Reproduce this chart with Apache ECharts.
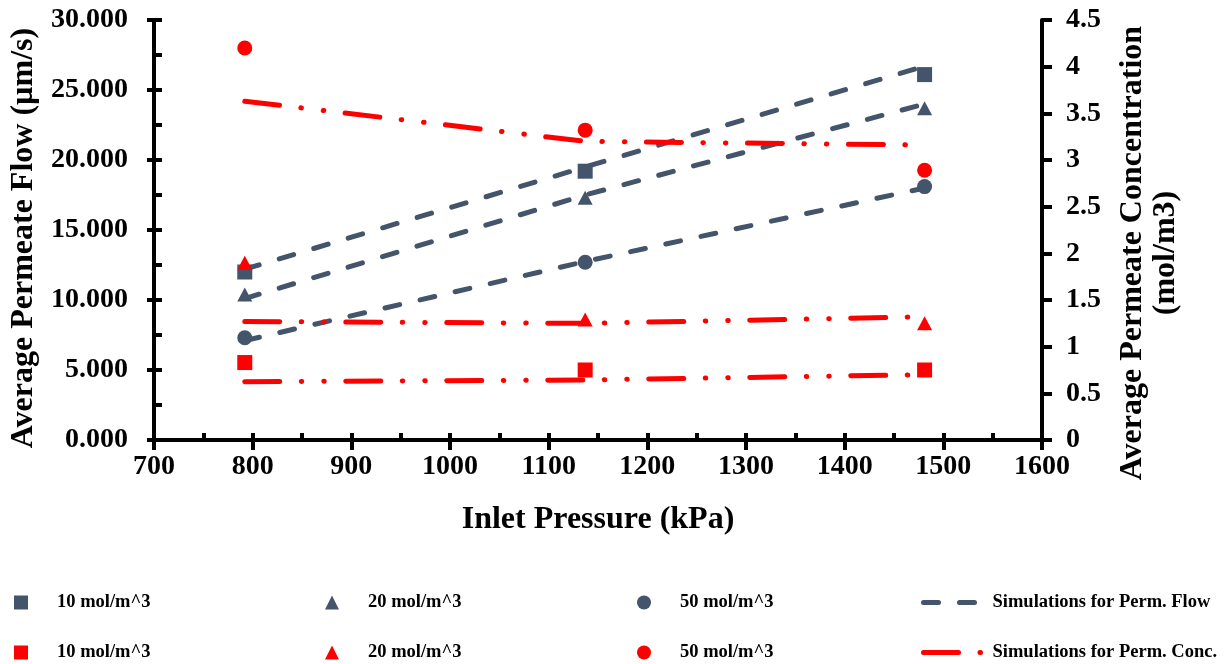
<!DOCTYPE html>
<html>
<head>
<meta charset="utf-8">
<script src="https://cdn.jsdelivr.net/npm/echarts@6/dist/echarts.min.js"></script>
<style>
  html, body { margin: 0; padding: 0; background: #fff; }
  #chart { width: 1230px; height: 664px; }
</style>
</head>
<body>
<div id="chart"></div>
<script>
// inlet pressure (kPa) of the three runs
const pressures = [792, 1137, 1481];

// measured permeate flow (µm/s)
const flow10 = [12.0, 19.2, 26.1];
const flow20 = [10.4, 17.3, 23.7];
const flow50 = [7.3, 12.7, 18.1];

// simulated permeate flow (µm/s)
const simFlow10 = [12.2, 19.5, 26.7];
const simFlow20 = [10.1, 17.5, 24.0];
const simFlow50 = [7.1, 12.75, 18.0];

// measured permeate concentration (mol/m3)
const conc10 = [0.83, 0.75, 0.75];
const conc20 = [1.90, 1.29, 1.25];
const conc50 = [4.20, 3.32, 2.89];

// simulated permeate concentration (mol/m3)
const simConc10 = [0.625, 0.643, 0.70];
const simConc20 = [1.27, 1.25, 1.32];
const simConc50 = [3.63, 3.20, 3.16];

const GREY = '#44546A';
const RED = '#FF0000';
const FONT = "'Liberation Serif', 'Times New Roman', serif";
const FLOW_DASH = [15, 21];
const CONC_DASH = [35, 21.5, 0.5, 22, 0.5, 21.5];

const pairs = (ys) => pressures.map((x, i) => [x, ys[i]]);

const scatter = (name, symbol, color, ys, yAxisIndex) => ({
  name,
  type: 'scatter',
  yAxisIndex,
  symbol,
  symbolSize: symbol === 'triangle' ? [15, 14] : 15,
  itemStyle: { color, opacity: 1 },
  data: pairs(ys),
  z: 4,
});

const simLine = (name, color, dash, ys, yAxisIndex) => ({
  name,
  type: 'line',
  yAxisIndex,
  symbol: 'none',
  data: pairs(ys),
  lineStyle: { color, width: 5, type: dash, cap: 'round' },
  itemStyle: { color },
  z: 3,
});

const series = [
  simLine('Simulations for Perm. Flow', GREY, FLOW_DASH, simFlow10, 0),
  simLine('Simulations for Perm. Flow', GREY, FLOW_DASH, simFlow20, 0),
  simLine('Simulations for Perm. Flow', GREY, FLOW_DASH, simFlow50, 0),
  scatter('flow10', 'rect', GREY, flow10, 0),
  scatter('flow20', 'triangle', GREY, flow20, 0),
  scatter('flow50', 'circle', GREY, flow50, 0),
  simLine('Simulations for Perm. Conc.', RED, CONC_DASH, simConc10, 1),
  simLine('Simulations for Perm. Conc.', RED, CONC_DASH, simConc20, 1),
  simLine('Simulations for Perm. Conc.', RED, CONC_DASH, simConc50, 1),
  scatter('conc10', 'rect', RED, conc10, 1),
  scatter('conc20', 'triangle', RED, conc20, 1),
  scatter('conc50', 'circle', RED, conc50, 1),
];

// legend: 4 columns x 2 rows, one legend component per entry
const legendLabels = {
  flow10: '10 mol/m^3', flow20: '20 mol/m^3', flow50: '50 mol/m^3',
  conc10: '10 mol/m^3', conc20: '20 mol/m^3', conc50: '50 mol/m^3',
};
const legendRows = [
  ['flow10', 'flow20', 'flow50', 'Simulations for Perm. Flow'],
  ['conc10', 'conc20', 'conc50', 'Simulations for Perm. Conc.'],
];
const colLeft = [9, 320, 632, 916];
const rowTop = [588, 638];
const legend = [];
legendRows.forEach((row, r) => {
  row.forEach((name, c) => {
    const isLine = c === 3;
    legend.push({
      data: [name],
      left: colLeft[c],
      top: rowTop[r],
      selectedMode: false,
      itemWidth: isLine ? 58 : 14,
      itemHeight: 14,
      lineStyle: { width: 5 },
      // hide the marker that line series put in the middle of their icon
      itemStyle: isLine ? { opacity: 0 } : {},
      formatter: (n) => legendLabels[n] || n,
      textStyle: {
        fontFamily: FONT,
        fontWeight: 'bold',
        fontSize: 18.5,
        color: '#000',
        padding: [0, 0, 0, isLine ? 6 : 24],
      },
    });
  });
});

const axisText = { fontFamily: FONT, fontWeight: 'bold', color: '#000' };
const axisLine = { show: true, lineStyle: { color: '#000', width: 4 } };
const tickStyle = { color: '#000', width: 4 };

const chart = echarts.init(document.getElementById('chart'), null, { renderer: 'canvas' });
chart.setOption({
  animation: false,
  backgroundColor: '#fff',
  grid: { left: 154, right: 188, top: 20, bottom: 224, outerBoundsMode: 'none' },
  legend,
  xAxis: [
    {
      type: 'value',
      min: 700, max: 1600, interval: 100,
      name: 'Inlet Pressure (kPa)',
      nameLocation: 'middle',
      nameGap: 64,
      nameTextStyle: { ...axisText, fontSize: 32 },
      axisLine,
      axisTick: { show: true, inside: false, length: 10, lineStyle: tickStyle },
      axisLabel: { ...axisText, fontSize: 28, margin: 13, formatter: (v) => String(v) },
      splitLine: { show: false },
    },
    {
      type: 'value',
      position: 'bottom',
      min: 700, max: 1600, interval: 100,
      axisLine: { show: false },
      axisTick: { show: true, inside: true, length: 7, lineStyle: tickStyle },
      minorTick: { show: true, splitNumber: 2, length: 7, lineStyle: tickStyle },
      axisLabel: { show: false },
      splitLine: { show: false },
    },
  ],
  yAxis: [
    {
      type: 'value',
      position: 'left',
      min: 0, max: 30, interval: 5,
      name: 'Average Permeate Flow (µm/s)',
      nameLocation: 'middle',
      nameRotate: 90,
      nameGap: 108,
      nameTextStyle: { ...axisText, fontSize: 32, padding: [0, 16, 0, 0] },
      axisLine,
      axisTick: { show: true, inside: false, length: 7, lineStyle: tickStyle },
      axisLabel: { ...axisText, fontSize: 28, margin: 26, formatter: (v) => v.toFixed(3) },
      splitLine: { show: false },
    },
    {
      type: 'value',
      position: 'right',
      min: 0, max: 4.5, interval: 0.5,
      name: 'Average Permeate Concentration\n(mol/m3)',
      nameLocation: 'middle',
      nameRotate: 90,
      nameGap: 74,
      nameTextStyle: { ...axisText, fontSize: 32, lineHeight: 33, align: 'center', padding: [0, 46, 0, 0] },
      axisLine,
      axisTick: { show: true, inside: false, length: 10, lineStyle: tickStyle },
      axisLabel: { ...axisText, fontSize: 28, margin: 24 },
      splitLine: { show: false },
    },
    {
      type: 'value',
      position: 'left',
      min: 0, max: 30, interval: 5,
      axisLine: { show: false },
      axisTick: { show: true, inside: true, length: 8, lineStyle: tickStyle },
      minorTick: { show: true, splitNumber: 2, length: 8, lineStyle: tickStyle },
      axisLabel: { show: false },
      splitLine: { show: false },
    },
  ],
  series,
});
</script>
</body>
</html>
